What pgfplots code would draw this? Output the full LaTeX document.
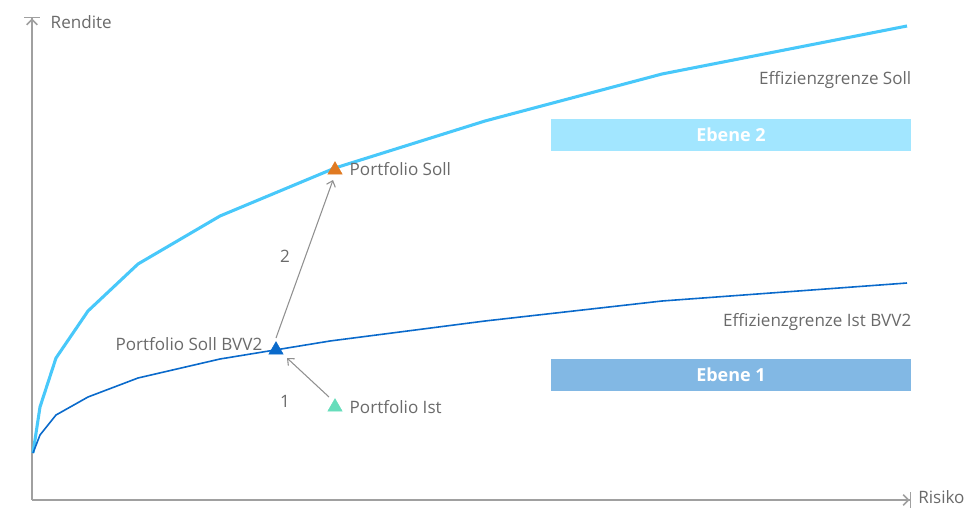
\documentclass[border=0pt]{standalone}
\usepackage{pgfplots}
\pgfplotsset{compat=1.18}
\usepackage{fontspec}
\setmainfont{Open Sans}
\usetikzlibrary{arrows.meta}
\definecolor{soll}{HTML}{48C8FA}
\definecolor{ist}{HTML}{0A6ACB}
\definecolor{axgray}{HTML}{A0A0A0}
\definecolor{txt}{HTML}{6A6A6A}
\definecolor{orng}{HTML}{E07A22}
\definecolor{teal}{HTML}{66DDBB}
\definecolor{eb2}{HTML}{A2E6FF}
\definecolor{eb1}{HTML}{82B8E4}
\begin{document}
\begin{tikzpicture}[font=\fontsize{12.8}{15}\selectfont]
\begin{axis}[
  x=0.75pt, y=0.75pt,
  xmin=0, xmax=966, ymin=0, ymax=508,
  hide axis, clip=false, scale only axis,
]
\path (axis cs:0,0) rectangle (axis cs:966,508);
% axes
\draw[axgray, line width=1.1pt, -{Straight Barb[length=4pt,width=8pt]Bar[width=12pt]}] (axis cs:32,8) -- (axis cs:32,491);
\draw[axgray, line width=1.1pt, -{Straight Barb[length=4pt,width=8pt]Bar[width=12pt]}] (axis cs:32,8) -- (axis cs:911,8);
\node[anchor=west, txt] at (axis cs:46,486) {Rendite};
\node[anchor=west, txt, inner sep=0pt] at (axis cs:918,11) {Risiko};
% boxes
\fill[eb2] (axis cs:551,357) rectangle (axis cs:911,389);
\fill[eb1] (axis cs:551,117) rectangle (axis cs:911,149);
\node[white, font=\fontsize{13.5}{15}\selectfont\bfseries] at (axis cs:731,373) {Ebene 2};
\node[white, font=\fontsize{13.5}{15}\selectfont\bfseries] at (axis cs:731,133) {Ebene 1};
% curves
\addplot[soll, line width=2.3pt, line join=round] coordinates {
 (33,55) (40,101) (56,150) (88,197) (138,244) (220,292) (335,340) (485,387) (662,434) (907,482)};
\addplot[ist, line width=1.2pt, line join=round] coordinates {
 (33,55) (40,73) (56,93) (88,111) (138,130) (220,149) (330,167) (485,187) (662,207) (907,225)};
% arrows
\addplot[axgray!90!black, line width=0.8pt, -{Straight Barb[length=4pt,width=7pt]}] coordinates {(276,170) (333,328)};
\addplot[axgray!90!black, line width=0.8pt, -{Straight Barb[length=4pt,width=7pt]}] coordinates {(329,111) (287,150)};
\node[txt] at (axis cs:285,252) {2};
\node[txt] at (axis cs:285,107) {1};
% markers
\addplot[orng, only marks, mark=triangle*, mark size=6.2pt, mark options={fill=orng, draw=orng}] coordinates {(335,338)};
\addplot[ist, only marks, mark=triangle*, mark size=6.2pt, mark options={fill=ist, draw=ist}] coordinates {(276,158)};
\addplot[teal, only marks, mark=triangle*, mark size=6.2pt, mark options={fill=teal, draw=teal}] coordinates {(335,101)};
% labels
\node[anchor=west, txt] at (axis cs:345,339) {Portfolio Soll};
\node[anchor=east, txt] at (axis cs:267,164) {Portfolio Soll BVV2};
\node[anchor=west, txt] at (axis cs:345,101) {Portfolio Ist};
\node[anchor=east, txt] at (axis cs:916,428) {Effizienzgrenze Soll};
\node[anchor=east, txt] at (axis cs:916,186) {Effizienzgrenze Ist BVV2};
\end{axis}
\end{tikzpicture}
\end{document}
